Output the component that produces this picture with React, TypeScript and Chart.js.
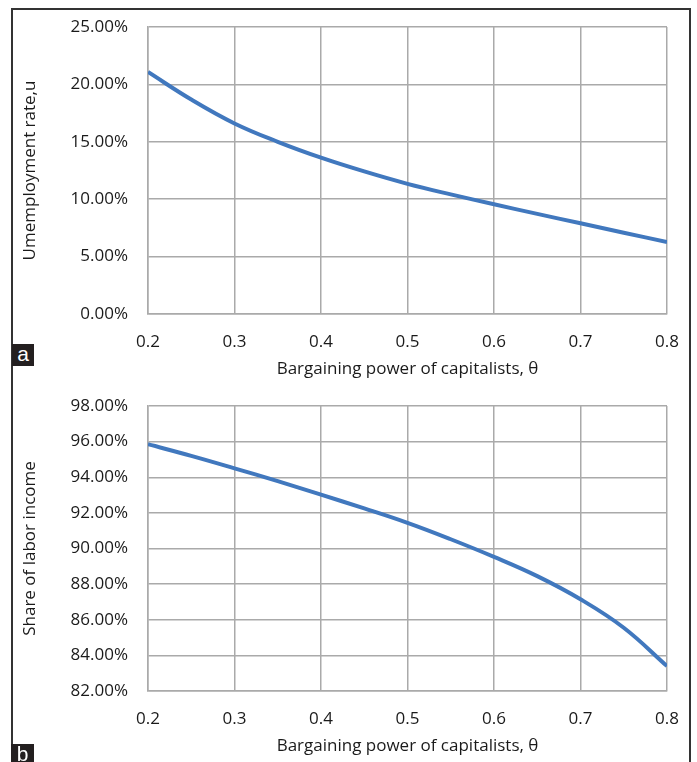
import React, { useEffect, useRef } from 'react';
import { Chart, registerables } from 'chart.js';

Chart.register(...registerables);

// ---- data ----
const theta = [0.2, 0.25, 0.3, 0.35, 0.4, 0.45, 0.5, 0.55, 0.6, 0.65, 0.7, 0.75, 0.8];
const unemploymentRate = [21.08, 18.68, 16.6, 15.0, 13.62, 12.42, 11.34, 10.42, 9.56, 8.72, 7.9, 7.08, 6.27];
const laborShare = [95.85, 95.2, 94.5, 93.78, 93.02, 92.25, 91.44, 90.52, 89.53, 88.45, 87.15, 85.55, 83.4];

const xTickValues = [0.2, 0.3, 0.4, 0.5, 0.6, 0.7, 0.8];
const yTicksA = [0, 5, 10, 15, 20, 25];
const yTicksB = [82, 84, 86, 88, 90, 92, 94, 96, 98];

const xTitle = 'Bargaining power of capitalists, θ';
const yTitleA = 'Umemployment rate,u';
const yTitleB = 'Share of labor income';
const panelA = 'a';
const panelB = 'b';

const FONT = "'Open Sans', 'Liberation Sans', sans-serif";
const TEXT = '#1a1a1a';
const GRID = '#aaaaaa';
const LINE = '#4178be';

function makeConfig(values: number[], yTicks: number[], yTitle: string): any {
  const yMin = yTicks[0];
  const yMax = yTicks[yTicks.length - 1];
  return {
    type: 'line',
    data: {
      datasets: [
        {
          data: theta.map((t, i) => ({ x: t, y: values[i] })),
          borderColor: LINE,
          borderWidth: 4,
          pointRadius: 0,
          fill: false,
          tension: 0.4,
        },
      ],
    },
    options: {
      animation: false,
      responsive: false,
      maintainAspectRatio: false,
      layout: { padding: { left: 0, right: 21, top: 16, bottom: 0 } },
      plugins: { legend: { display: false }, tooltip: { enabled: false } },
      scales: {
        x: {
          type: 'linear',
          min: xTickValues[0],
          max: xTickValues[xTickValues.length - 1],
          afterBuildTicks: (s: any) => {
            s.ticks = xTickValues.map((v) => ({ value: v }));
          },
          afterFit: (s: any) => {
            s.height = 70;
            s.paddingLeft = 0;
            s.paddingRight = 0;
          },
          grid: { color: GRID, lineWidth: 1.5, drawTicks: false },
          border: { color: GRID, width: 1.5 },
          ticks: {
            padding: 18,
            color: TEXT,
            font: { family: FONT, size: 17 },
            maxRotation: 0,
            autoSkip: false,
            callback: (v: any) => Number(v).toFixed(1),
          },
          title: {
            display: true,
            text: xTitle,
            color: TEXT,
            font: { family: FONT, size: 17 },
            padding: { top: 0, bottom: 5 },
          },
        },
        y: {
          type: 'linear',
          min: yMin,
          max: yMax,
          afterBuildTicks: (s: any) => {
            s.ticks = yTicks.map((v) => ({ value: v }));
          },
          afterFit: (s: any) => {
            s.width = 136;
            s.paddingTop = 0;
            s.paddingBottom = 0;
          },
          grid: { color: GRID, lineWidth: 1.5, drawTicks: false },
          border: { color: GRID, width: 1.5 },
          ticks: {
            padding: 20,
            color: TEXT,
            font: { family: FONT, size: 17 },
            autoSkip: false,
            callback: (v: any) => Number(v).toFixed(2) + '%',
          },
          title: {
            display: true,
            text: yTitle,
            color: TEXT,
            font: { family: FONT, size: 17 },
            padding: { top: 8, bottom: 0 },
          },
        },
      },
    },
  };
}

function LineChart(props: { values: number[]; yTicks: number[]; yTitle: string; width: number; height: number }) {
  const ref = useRef<HTMLCanvasElement | null>(null);
  useEffect(() => {
    if (!ref.current) return;
    const chart = new Chart(ref.current, makeConfig(props.values, props.yTicks, props.yTitle));
    return () => chart.destroy();
  }, []);
  return <canvas ref={ref} width={props.width} height={props.height} style={{ width: props.width, height: props.height, display: 'block' }} />;
}

const badge: React.CSSProperties = {
  position: 'absolute',
  background: '#231f20',
  color: '#ffffff',
  fontFamily: "'Liberation Sans', Arial, sans-serif",
  fontSize: 21,
  lineHeight: '20px',
  textAlign: 'center',
  overflow: 'hidden',
};

export default function App() {
  return (
    <div>
      <div
        style={{
          position: 'absolute',
          left: 11,
          top: 8,
          width: 680,
          height: 754,
          boxSizing: 'border-box',
          borderLeft: '2px solid #333',
          borderTop: '2px solid #333',
          borderRight: '2px solid #333',
        }}
      />
      <div style={{ position: 'absolute', left: 12, top: 11 }}>
        <LineChart values={unemploymentRate} yTicks={yTicksA} yTitle={yTitleA} width={676} height={373} />
      </div>
      <div style={{ position: 'absolute', left: 12, top: 390 }}>
        <LineChart values={laborShare} yTicks={yTicksB} yTitle={yTitleB} width={676} height={371} />
      </div>
      <div style={{ ...badge, left: 12, top: 344, width: 22, height: 22 }}>{panelA}</div>
      <div style={{ ...badge, left: 11, top: 744, width: 23, height: 18 }}>{panelB}</div>
    </div>
  );
}
